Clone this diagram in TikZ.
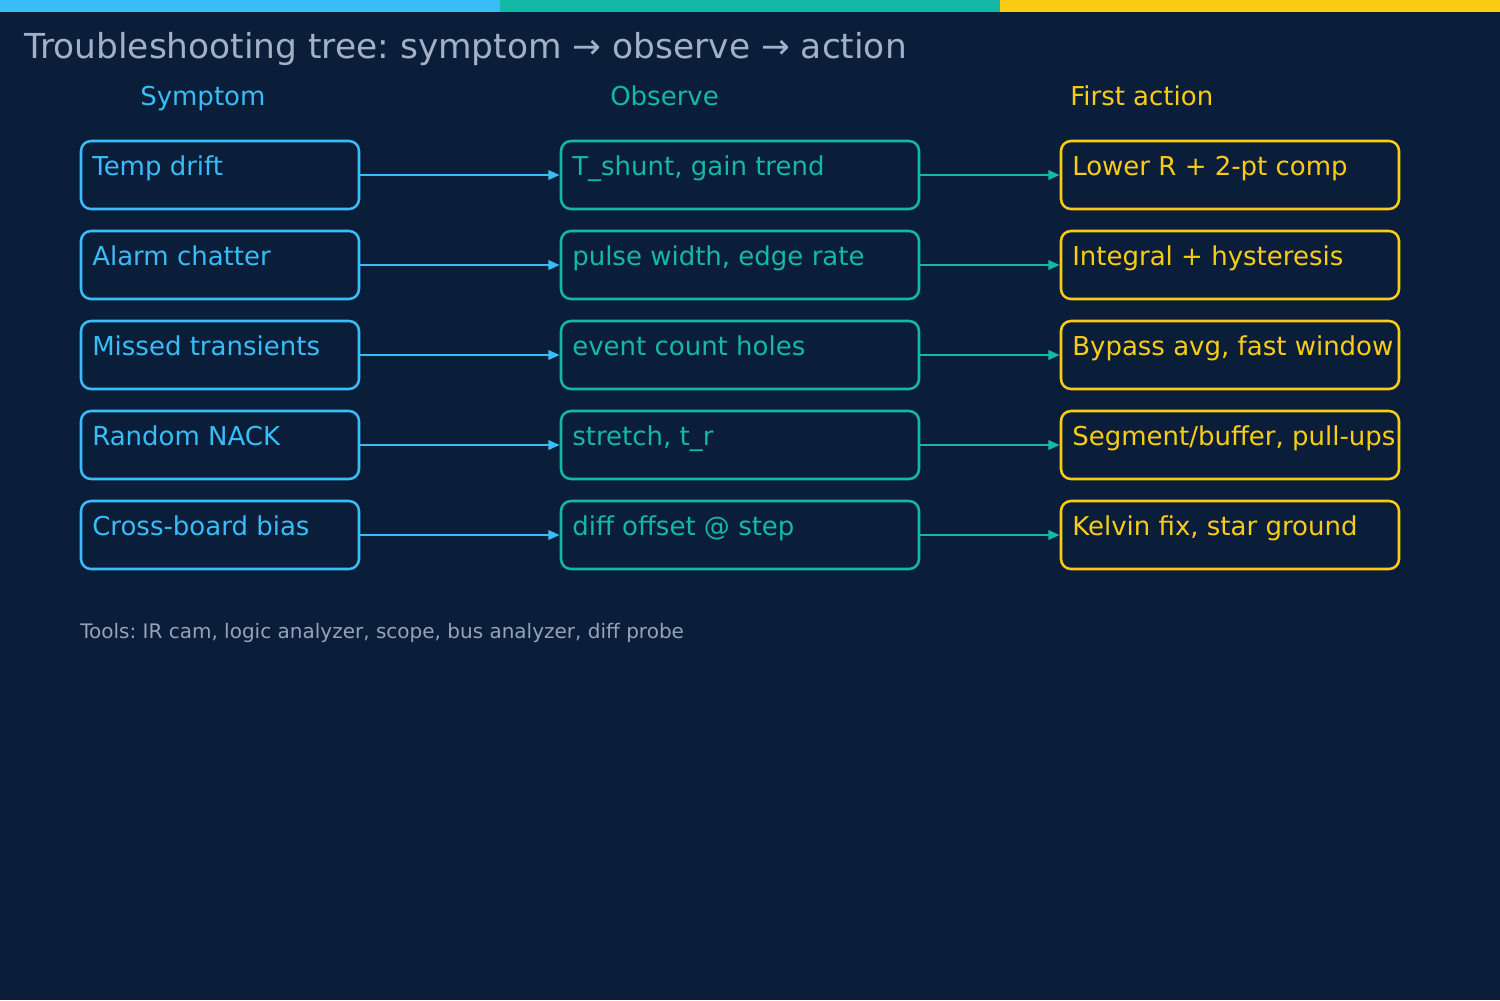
\documentclass[tikz,border=0pt]{standalone}
\usepackage{fontspec}
\setmainfont{DejaVu Sans}
\usetikzlibrary{arrows.meta}
\definecolor{bg}{HTML}{0A1E3A}
\definecolor{cblue}{HTML}{38BDF8}
\definecolor{cteal}{HTML}{14B8A6}
\definecolor{cyellow}{HTML}{FACC15}
\definecolor{ctitle}{HTML}{A3B1C6}
\definecolor{ctools}{HTML}{94A3B8}
\tikzset{
  boxbase/.style={draw, line width=1.9pt, rounded corners=7.5pt, minimum height=51pt, inner sep=0pt},
  symbox/.style={boxbase, cblue, minimum width=208.5pt},
  obsbox/.style={boxbase, cteal, minimum width=268.5pt},
  actbox/.style={boxbase, cyellow, minimum width=253.5pt},
  boxtext/.style={anchor=base west, inner sep=0pt, font=\fontsize{19.5}{23}\selectfont},
  header/.style={anchor=base west, inner sep=0pt, font=\fontsize{19.5}{23}\selectfont},
  conn/.style={line width=1.8pt, -{Triangle[length=8.5pt,width=7pt]}},
}
\frenchspacing
\begin{document}
\frenchspacing
\begin{tikzpicture}[x=0.75pt,y=-0.75pt]
\fill[bg] (0,0) rectangle (1500,1000);
\useasboundingbox (0,0) rectangle (1500,1000);
\fill[cblue] (0,0) rectangle (500,12);
\fill[cteal] (500,0) rectangle (1000,12);
\fill[cyellow] (1000,0) rectangle (1500,12);
\node[anchor=base west, inner sep=0pt, text=ctitle, font=\fontsize{25.8}{30}\selectfont] (title) at (24,58) {Troubleshooting tree: symptom → observe → action};
\node[header, text=cblue] (h1) at (140,105) {Symptom};
\node[header, text=cteal] (h2) at (610,105) {Observe};
\node[header, text=cyellow] (h3) at (1070,105) {First action};
\foreach \i/\y/\a/\b/\c in {
  1/175/{Temp drift}/{T\_shunt, gain trend}/{Lower R + 2-pt comp},
  2/265/{Alarm chatter}/{pulse width, edge rate}/{Integral + hysteresis},
  3/355/{Missed transients}/{event count holes}/{Bypass avg, fast window},
  4/445/{Random NACK}/{stretch, t\_r}/{Segment/buffer, pull-ups},
  5/535/{Cross-board bias}/{diff offset @ step}/{Kelvin fix, star ground}} {
  \node[symbox] (s\i) at (220,\y) {};
  \node[obsbox] (o\i) at (740,\y) {};
  \node[actbox] (a\i) at (1230,\y) {};
  \node[boxtext, text=cblue] (st\i) at (92,\y) {\a};
  \node[boxtext, text=cteal] (ot\i) at (572,\y) {\b};
  \node[boxtext, text=cyellow] (at\i) at (1072,\y) {\c};
  \draw[conn, cblue] (s\i.east) -- (o\i.west);
  \draw[conn, cteal] (o\i.east) -- (a\i.west);
}
\node[anchor=base west, inner sep=0pt, text=ctools, font=\fontsize{15}{18}\selectfont] (tools) at (80,638) {Tools: IR cam, logic analyzer, scope, bus analyzer, diff probe};
\end{tikzpicture}
\end{document}
